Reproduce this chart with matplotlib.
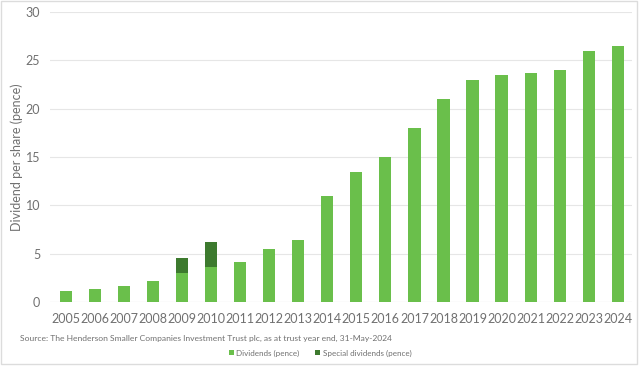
import numpy as np
import matplotlib.pyplot as plt
from matplotlib.patches import Rectangle

# data
years = [str(y) for y in range(2005, 2025)]
dividends = [1.15, 1.35, 1.7, 2.2, 3.0, 3.6, 4.2, 5.5, 6.4, 11.0,
             13.5, 15.0, 18.0, 21.0, 23.0, 23.5, 23.75, 24.0, 26.0, 26.5]
special = [0, 0, 0, 0, 1.6, 2.6, 0, 0, 0, 0,
           0, 0, 0, 0, 0, 0, 0, 0, 0, 0]

light_green = "#6abf4b"
dark_green = "#3d7a2e"
text_grey = "#707070"

plt.rcParams['font.family'] = ['Lato', 'DejaVu Sans']

fig = plt.figure(figsize=(6.4, 3.68), dpi=100)
ax = fig.add_axes([0.078, 0.179, 0.909, 0.788])

x = np.arange(len(years))
ax.bar(x, dividends, width=0.42, color=light_green, label="Dividends (pence)", zorder=2)
ax.bar(x, special, width=0.42, bottom=dividends, color=dark_green,
       label="Special dividends (pence)", zorder=2)

ax.set_xlim(-0.55, len(years) - 1 + 0.48)
ax.set_ylim(0, 30)
ax.set_yticks([0, 5, 10, 15, 20, 25, 30])
ax.set_xticks(x)
ax.set_xticklabels(years)
ax.tick_params(axis='x', length=0, labelsize=9, colors=text_grey, pad=8)
ax.tick_params(axis='y', length=0, labelsize=9, colors=text_grey, pad=7)
ax.yaxis.grid(True, color="#e6e6e6", linewidth=0.8, zorder=0)
for s in ax.spines.values():
    s.set_visible(False)
ax.axhline(0, color="#e0e0e0", linewidth=0.8, zorder=1)

ax.set_ylabel("Dividend per share (pence)", fontsize=9, color=text_grey)
ax.yaxis.set_label_coords(-0.047, 0.5)

fig.text(0.031, 0.081, "Source: The Henderson Smaller Companies Investment Trust plc, as at trust year end, 31-May-2024",
         fontsize=6.1, color=text_grey, va='center')

fig.legend(loc='center', bbox_to_anchor=(0.5, 0.04), ncol=2, frameon=False,
           fontsize=5.8, labelcolor=text_grey, handlelength=0.6, handleheight=0.6,
           handletextpad=0.3, columnspacing=2.0)

fig.patches.append(Rectangle((0.002, 0.012), 0.993, 0.985, transform=fig.transFigure,
                             fill=False, edgecolor="#dcdcdc", linewidth=1))

plt.savefig("out.png", dpi=100)
